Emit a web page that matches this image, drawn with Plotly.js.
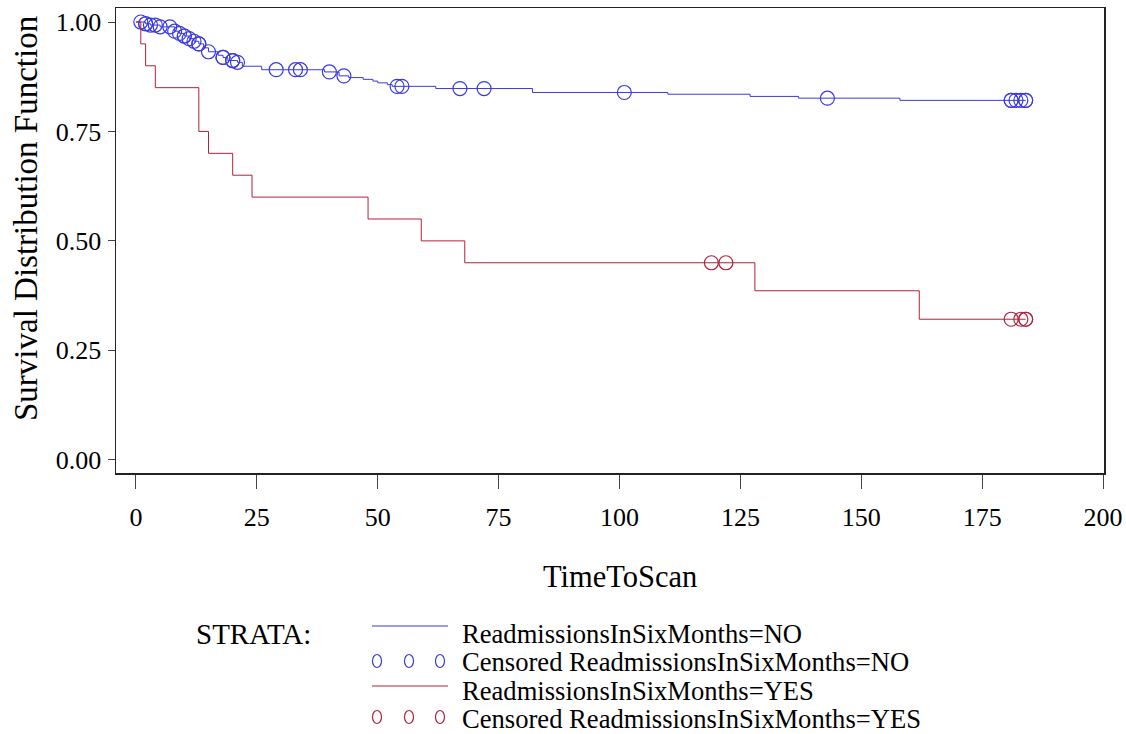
<!DOCTYPE html>
<html>
<head>
<meta charset="utf-8">
<script src="https://cdn.plot.ly/plotly-3.0.1.min.js"></script>
<style>html,body{margin:0;padding:0;background:#fff;}#chart{width:1126px;height:734px;}</style>
</head>
<body>
<div id="chart"></div>
<script>
// ---- data ----
const noTimes = [0, 2, 3, 5, 8, 9, 10, 11, 12, 13, 14, 15, 17, 18, 19, 21, 22, 26, 39, 42, 44, 47, 49, 50, 52, 53, 62, 82, 110, 127, 137, 158, 184];
const noSurv  = [1.000, 0.996, 0.993, 0.989, 0.979, 0.974, 0.968, 0.962, 0.956, 0.950, 0.941, 0.932, 0.924, 0.919, 0.912, 0.908, 0.899, 0.891, 0.886, 0.877, 0.873, 0.869, 0.865, 0.861, 0.857, 0.853, 0.848, 0.839, 0.835, 0.830, 0.826, 0.821, 0.821];
const noCensored = [1, 2, 2, 3, 4, 5, 7, 8, 9, 10, 10, 11, 12, 13, 13, 15, 18, 18, 20, 20, 21, 29, 33, 34, 40, 43, 54, 55, 67, 72, 101, 143, 181, 181, 182, 183, 184, 184];

const yesTimes = [0, 1, 2, 4, 13, 15, 20, 24, 48, 59, 68, 128, 162, 184];
const yesSurv  = [1.000, 0.950, 0.900, 0.850, 0.750, 0.700, 0.650, 0.600, 0.550, 0.500, 0.450, 0.386, 0.321, 0.321];
const yesCensored = [119, 122, 181, 183, 184, 184];

const xTicks = [0, 25, 50, 75, 100, 125, 150, 175, 200];
const yTicks = [0, 0.25, 0.5, 0.75, 1];

const labels = {
  xTitle: 'TimeToScan',
  yTitle: 'Survival Distribution Function',
  strata: 'STRATA:',
  noLine: 'ReadmissionsInSixMonths=NO',
  noCens: 'Censored ReadmissionsInSixMonths=NO',
  yesLine: 'ReadmissionsInSixMonths=YES',
  yesCens: 'Censored ReadmissionsInSixMonths=YES'
};

const BLUE = '#3a3ae0';
const RED = '#b3213a';
const FONT = 'Liberation Serif, Times New Roman, serif';

function stepValue(times, surv, t) {
  let v = surv[0];
  for (let i = 0; i < times.length; i++) { if (times[i] <= t) v = surv[i]; }
  return v;
}

const traces = [
  {x: noTimes, y: noSurv, mode: 'lines', line: {shape: 'hv', color: BLUE, width: 1}, showlegend: false, hoverinfo: 'skip'},
  {x: noCensored, y: noCensored.map(t => stepValue(noTimes, noSurv, t)), mode: 'markers',
   marker: {symbol: 'circle-open', size: 14, color: BLUE, line: {width: 1.2, color: BLUE}}, showlegend: false},
  {x: yesTimes, y: yesSurv, mode: 'lines', line: {shape: 'hv', color: RED, width: 1}, showlegend: false, hoverinfo: 'skip'},
  {x: yesCensored, y: yesCensored.map(t => stepValue(yesTimes, yesSurv, t)), mode: 'markers',
   marker: {symbol: 'circle-open', size: 14, color: RED, line: {width: 1.2, color: RED}}, showlegend: false}
];

// plot-area pixel frame: left 116, right 1104, top 8, bottom 473
const L = 116, R = 1104, T = 8, B = 473;
const px = v => (v - L) / (R - L);
const py = v => (B - v) / (B - T);

const shapes = [];
const annotations = [];
function legLine(y, color) {
  shapes.push({type: 'line', xref: 'paper', yref: 'paper', x0: px(372), x1: px(448), y0: py(y), y1: py(y), line: {color: color, width: 1.2}});
}
function legCircles(y, color) {
  [377, 409, 440].forEach(cx => {
    shapes.push({type: 'circle', xref: 'paper', yref: 'paper', x0: px(cx - 4.5), x1: px(cx + 4.5), y0: py(y + 6.5), y1: py(y - 6.5), line: {color: color, width: 1.2}});
  });
}
function legText(y, text, x, size) {
  annotations.push({xref: 'paper', yref: 'paper', x: px(x), y: py(y), text: text, showarrow: false,
    xanchor: 'left', yanchor: 'middle', font: {family: FONT, size: size, color: '#000'}});
}
legText(634, labels.strata, 194, 29);
legLine(626, BLUE); legText(634, labels.noLine, 460, 26.6);
legCircles(661, BLUE); legText(662, labels.noCens, 460, 26.6);
legLine(686, RED); legText(691, labels.yesLine, 460, 26.6);
legCircles(717, RED); legText(719, labels.yesCens, 460, 26.6);

// axis titles (SAS centres the x title on the 0-200 axis range)
annotations.push({xref: 'x', yref: 'paper', x: 100, y: py(577), text: labels.xTitle, showarrow: false,
  xanchor: 'center', yanchor: 'middle', font: {family: FONT, size: 30.5, color: '#000'}});
annotations.push({xref: 'paper', yref: 'paper', x: px(26), y: py(219), text: labels.yTitle, showarrow: false,
  textangle: -90, xanchor: 'center', yanchor: 'middle', font: {family: FONT, size: 33, color: '#000'}});

const layout = {
  width: 1126, height: 734,
  margin: {l: L, r: 1126 - R, t: T, b: 734 - B, pad: 0},
  paper_bgcolor: '#fff', plot_bgcolor: '#fff',
  font: {family: FONT, color: '#000'},
  xaxis: {
    range: [-4.13, 200.2], tickvals: xTicks, ticktext: xTicks.map(String),
    ticks: 'outside', ticklen: 14, tickwidth: 1, tickcolor: '#444',
    showline: true, mirror: true, linecolor: '#222', linewidth: 1.5,
    showgrid: false, zeroline: false, ticklabelstandoff: 6,
    tickfont: {family: FONT, size: 26, color: '#000'}
  },
  yaxis: {
    range: [-0.0303, 1.032], tickvals: yTicks, tickformat: '.2f',
    ticks: 'outside', ticklen: 7, tickwidth: 1, tickcolor: '#444',
    showline: true, mirror: true, linecolor: '#222', linewidth: 1.5,
    showgrid: false, zeroline: false, ticklabelstandoff: 1,
    tickfont: {family: FONT, size: 26, color: '#000'}
  },
  shapes: shapes,
  annotations: annotations,
  showlegend: false
};

Plotly.newPlot('chart', traces, layout, {displayModeBar: false, staticPlot: true});
</script>
</body>
</html>
